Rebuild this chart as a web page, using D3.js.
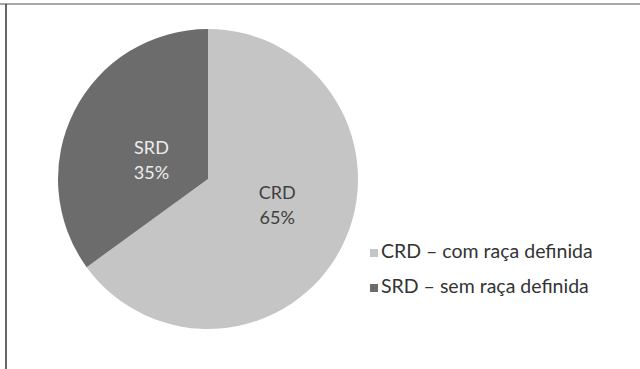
<!DOCTYPE html>
<html>
<head>
<meta charset="utf-8">
<script src="https://cdn.jsdelivr.net/npm/d3@7"></script>
<style>
  body { margin: 0; background: #fff; }
  svg { display: block; }
</style>
</head>
<body>
<svg width="640" height="369"></svg>
<script>
// data
const categories = ['CRD', 'SRD']
const values = [65, 35]
const legendLabels = ['CRD – com raça definida', 'SRD – sem raça definida']

const colors = ['#c5c5c5', '#6c6c6c']
const labelColors = ['#3f3f3f', '#ececec']
// label distance from centre, as a share of the radius
const labelRadius = [0.49, 0.4]

let svg = d3.select('svg')
let font = 'Lato, "Open Sans", sans-serif'

// frame lines
svg.append('line')
  .attr('x1', 0).attr('x2', 640).attr('y1', 4).attr('y2', 4)
  .attr('stroke', '#8a8a8a').attr('stroke-width', 1.5)
svg.append('line')
  .attr('x1', 6).attr('x2', 6).attr('y1', 4).attr('y2', 369)
  .attr('stroke', '#333').attr('stroke-width', 1.5)

let cx = 208
let cy = 179
let radius = 150

let pie = d3.pie().sort(null).value((d) => d)
let arc = d3.arc().innerRadius(0).outerRadius(radius)

let g = svg.append('g')
  .attr('transform', 'translate(' + cx + ',' + cy + ')')

let arcs = pie(values)

g.selectAll('path')
  .data(arcs)
  .enter().append('path')
  .attr('d', arc)
  .attr('fill', (d, i) => colors[i])

// slice labels, nudged a little counter-clockwise like the original
let labels = g.selectAll('text.slice')
  .data(arcs)
  .enter().append('text')
  .attr('class', 'slice')
  .attr('transform', (d, i) => {
    let mid = (d.startAngle + d.endAngle) / 2 - 0.13
    let c = d3.pointRadial(mid, radius * labelRadius[i])
    return 'translate(' + c[0] + ',' + c[1] + ')'
  })
  .attr('text-anchor', 'middle')
  .attr('font-family', font)
  .attr('font-size', 18)
  .attr('fill', (d, i) => labelColors[i])

labels.append('tspan')
  .attr('x', 0).attr('y', -5)
  .text((d, i) => categories[i])
labels.append('tspan')
  .attr('x', 0).attr('y', 20)
  .text((d) => d.value + '%')

// legend
let legend = svg.append('g')
  .attr('transform', 'translate(370, 249)')

let rows = legend.selectAll('g')
  .data(legendLabels)
  .enter().append('g')
  .attr('transform', (d, i) => 'translate(0,' + i * 35 + ')')

rows.append('rect')
  .attr('width', 8).attr('height', 8)
  .attr('fill', (d, i) => colors[i])

rows.append('text')
  .attr('x', 11).attr('y', 9)
  .attr('font-family', font)
  .attr('font-size', 19.5)
  .attr('fill', '#333')
  .text((d) => d)
</script>
</body>
</html>
